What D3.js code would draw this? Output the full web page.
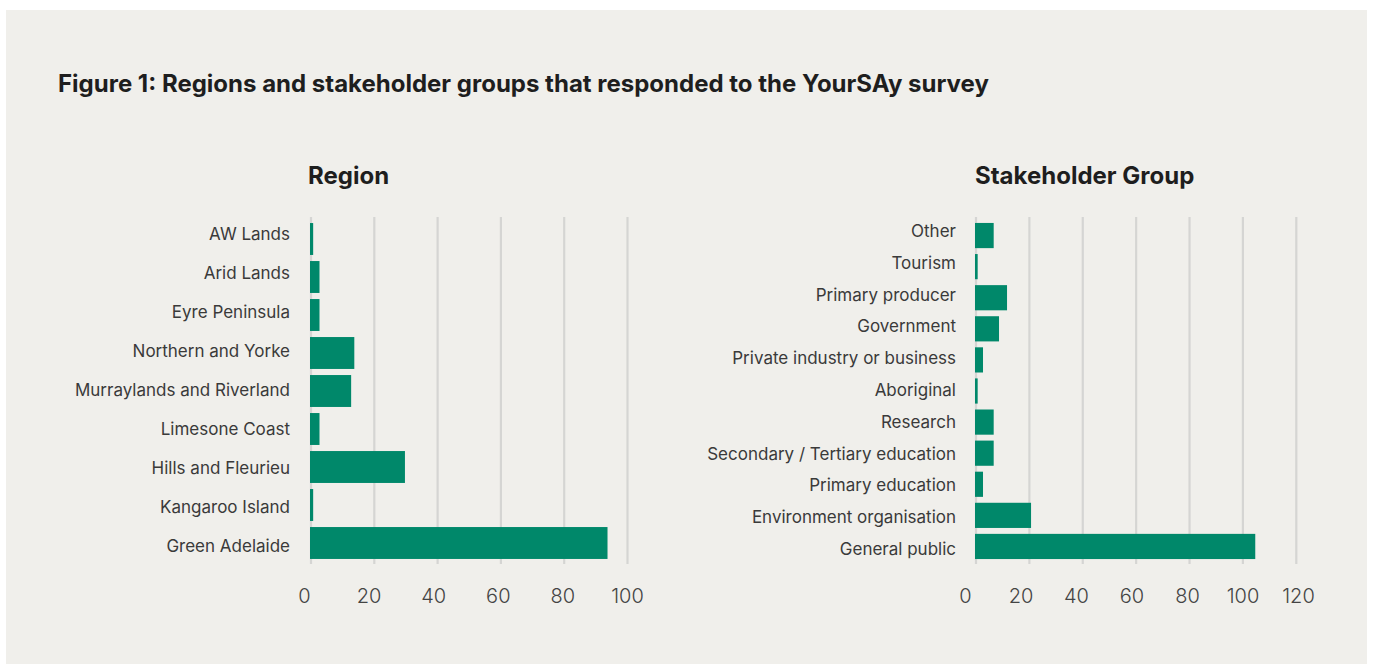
<!DOCTYPE html>
<html>
<head>
<meta charset="utf-8">
<script src="https://cdn.jsdelivr.net/npm/d3@7"></script>
<style>
  html, body { margin: 0; padding: 0; background: #ffffff; }
  svg { display: block; }
</style>
</head>
<body>
<svg id="chart" width="1373" height="666"></svg>
<script>
// Survey responses by region
const regionNames = ["AW Lands", "Arid Lands", "Eyre Peninsula", "Northern and Yorke",
  "Murraylands and Riverland", "Limesone Coast", "Hills and Fleurieu", "Kangaroo Island", "Green Adelaide"];
const regionCounts = [1, 3, 3, 14, 13, 3, 30, 1, 94];
const regionTicks = [0, 20, 40, 60, 80, 100];

// Survey responses by stakeholder group
const groupNames = ["Other", "Tourism", "Primary producer", "Government", "Private industry or business",
  "Aboriginal", "Research", "Secondary / Tertiary education", "Primary education",
  "Environment organisation", "General public"];
const groupCounts = [7, 1, 12, 9, 3, 1, 7, 7, 3, 21, 105];
const groupTicks = [0, 20, 40, 60, 80, 100, 120];

const GREEN = "#00886a";
const GRID = "#d5d5d3";
const FONT = "Inter, 'Open Sans', sans-serif";

const svg = d3.select("#chart");

// panel background
svg.append("rect")
  .attr("x", 6).attr("y", 10).attr("width", 1361).attr("height", 654)
  .attr("fill", "#f0efeb");

svg.append("text")
  .attr("x", 58).attr("y", 92)
  .attr("font-family", FONT).attr("font-weight", 700).attr("font-size", 24)
  .attr("fill", "#1e1e1e")
  .text("Figure 1: Regions and stakeholder groups that responded to the YourSAy survey");

function barPanel(opt) {
  const g = svg.append("g");
  const x = d3.scaleLinear().domain([0, opt.max]).range(opt.xRange);
  const y = d3.scaleBand().domain(opt.names).range([220, 562])
    .paddingInner(opt.pad).paddingOuter(opt.pad / 2);
  // label layouts (slightly looser than the bars)
  const yLab = d3.scalePoint().domain(opt.names).range(opt.labRange);
  const xLab = d3.scaleLinear().domain([0, opt.max]).range(opt.tickRange);

  // heading
  g.append("text")
    .attr("x", opt.titleX).attr("y", 184)
    .attr("font-family", FONT).attr("font-weight", 700).attr("font-size", 24)
    .attr("fill", "#1e1e1e")
    .text(opt.title);

  // vertical gridlines
  g.append("g").selectAll("line").data(opt.ticks).join("line")
    .attr("x1", d => x(d) + 1).attr("x2", d => x(d) + 1)
    .attr("y1", 217).attr("y2", 564)
    .attr("stroke", GRID).attr("stroke-width", 2.2);

  // bars
  g.append("g").selectAll("rect").data(opt.values).join("rect")
    .attr("x", x(0))
    .attr("y", (d, i) => y(opt.names[i]))
    .attr("width", d => x(d) - x(0))
    .attr("height", y.bandwidth())
    .attr("fill", GREEN);

  // category labels
  g.append("g").selectAll("text").data(opt.names).join("text")
    .attr("x", opt.labelX)
    .attr("y", d => yLab(d))
    .attr("dy", "0.35em")
    .attr("text-anchor", "end")
    .attr("font-family", FONT).attr("font-size", 17)
    .attr("fill", "#3a3a3a")
    .text(d => d);

  // value axis
  const axis = d3.axisBottom(xLab).tickValues(opt.ticks).tickSize(0).tickPadding(0);
  const ax = g.append("g").attr("transform", "translate(0,603)").call(axis);
  ax.select(".domain").remove();
  ax.selectAll("text")
    .attr("dy", 0)
    .attr("font-family", FONT).attr("font-weight", 300).attr("font-size", 20)
    .attr("fill", "#444");
}

barPanel({
  title: "Region", titleX: 308, names: regionNames, values: regionCounts, ticks: regionTicks,
  max: 100, xRange: [310, 626.5], pad: 0.16,
  labRange: [234, 546], labelX: 290, tickRange: [304, 627]
});

barPanel({
  title: "Stakeholder Group", titleX: 975, names: groupNames, values: groupCounts, ticks: groupTicks,
  max: 120, xRange: [975, 1295.3], pad: 0.19,
  labRange: [231, 549], labelX: 956, tickRange: [965, 1298]
});
</script>
</body>
</html>
